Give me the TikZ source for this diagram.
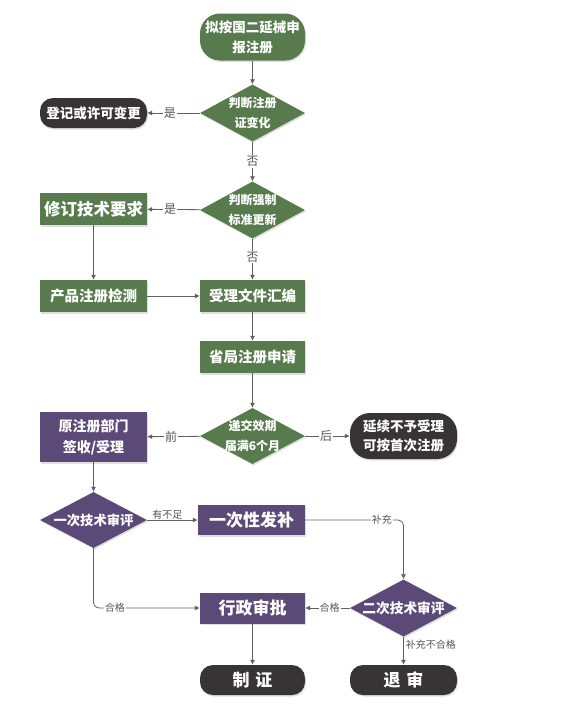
\documentclass[tikz,border=0pt]{standalone}
\usepackage{fontspec}
\setmainfont{Noto Sans CJK SC}
\usetikzlibrary{shapes.geometric,arrows.meta,shadows}
\definecolor{gbox}{HTML}{587B4E}
\definecolor{pbox}{HTML}{5B4A78}
\definecolor{dbox}{HTML}{383335}
\definecolor{lgray}{HTML}{606060}
\definecolor{tgray}{HTML}{555555}
\newcommand{\fs}[2]{\fontsize{#1}{#2}\selectfont}
\begin{document}
\begin{tikzpicture}[x=1pt,y=-1pt,
  base/.style={text=white,align=center,inner sep=0pt,
    drop shadow={opacity=0.25,shadow xshift=1pt,shadow yshift=-1.5pt}},
  gbx/.style={base,rectangle,fill=gbox,minimum width=105pt},
  pbx/.style={base,rectangle,fill=pbox,minimum width=107pt},
  term/.style={base,rectangle,rounded corners=13pt,fill=dbox,minimum width=107pt},
  dia/.style={base,diamond,shape aspect=1.84,inner sep=-4pt,minimum height=57pt},
  gdia/.style={dia,fill=gbox,minimum width=105pt},
  pdia/.style={dia,fill=pbox,minimum width=107pt},
  arr/.style={draw=lgray,line width=0.8pt,-{Latex[length=5pt,width=5pt]}},
  lab/.style={text=tgray,fill=white,inner sep=1pt,font=\fs{12}{14}},
  slab/.style={text=tgray,fill=white,inner sep=1pt,font=\fs{10}{12}},
]
\useasboundingbox (0,0) rectangle (582,723);
% nodes
\node[gbx,rounded corners=20pt,minimum height=47pt,font=\bfseries\fs{13.5}{20}] (start) at (252.5,37) {拟按国二延械申\\报注册};
\node[gdia,font=\bfseries\fs{12}{20}] (d1) at (252.5,113) {判断注册\\证变化};
\node[term,minimum height=30pt,font=\bfseries\fs{13.5}{16}] (n1) at (93.5,113) {登记或许可变更};
\node[gdia,font=\bfseries\fs{12}{20}] (d2) at (252.5,210) {判断强制\\标准更新};
\node[gbx,minimum width=107pt,minimum height=32pt,font=\bfseries\fs{16.5}{18}] (n2) at (93.5,209) {修订技术要求};
\node[gbx,minimum width=107pt,minimum height=32pt,font=\bfseries\fs{14.5}{16}] (n3) at (93.5,296) {产品注册检测};
\node[gbx,minimum height=32pt,font=\bfseries\fs{14.5}{16}] (n4) at (252.5,296) {受理文件汇编};
\node[gbx,minimum height=32pt,font=\bfseries\fs{14.5}{16}] (n5) at (252.5,357) {省局注册申请};
\node[gdia,minimum height=56pt,font=\bfseries\fs{12}{20}] (d3) at (252.5,436) {递交效期\\届满6个月};
\node[pbx,minimum height=50pt,font=\bfseries\fs{14}{21}] (n6) at (93.5,437) {原注册部门\\签收/受理};
\node[term,rounded corners=20pt,minimum height=46pt,font=\bfseries\fs{13.5}{19}] (n7) at (403.5,436) {延续不予受理\\可按首次注册};
\node[pdia,minimum height=56pt,font=\bfseries\fs{13.3}{16}] (d4) at (93.5,520) {一次技术审评};
\node[pbx,minimum height=30pt,font=\bfseries\fs{17}{19}] (n8) at (251.5,520) {一次性发补};
\node[pdia,font=\bfseries\fs{13.7}{16}] (d5) at (403.5,608) {二次技术审评};
\node[pbx,minimum width=105pt,minimum height=31pt,font=\bfseries\fs{17}{19}] (n9) at (252.5,608) {行政审批};
\node[term,minimum width=105pt,minimum height=30pt,font=\bfseries\fs{17}{19}] (n10) at (252.5,680) {制\,\,证};
\node[term,minimum height=30pt,font=\bfseries\fs{17}{19}] (n11) at (403.5,680) {退\,\,审};
% connectors
\draw[arr] (start) -- (d1);
\draw[arr] (d1) -- node[lab,pos=0.57]{是} (n1);
\draw[arr] (d1) -- node[lab]{否} (d2);
\draw[arr] (d2) -- node[lab,pos=0.57]{是} (n2);
\draw[arr] (d2) -- node[lab,pos=0.45]{否} (n4);
\draw[arr] (n2) -- (n3);
\draw[arr] (n3) -- (n4);
\draw[arr] (n4) -- (n5);
\draw[arr] (n5) -- (d3);
\draw[arr] (d3) -- node[lab,pos=0.55]{前} (n6);
\draw[arr] (d3) -- node[lab,pos=0.47]{后} (n7);
\draw[arr] (n6) -- (d4);
\draw[arr] (d4) -- node[slab,fill=none,above=-1pt,pos=0.4]{有不足} (n8);
\coordinate (c1) at (d5.north |- n8.east);
\draw[arr,rounded corners=6pt] (n8.east) -- node[slab,pos=0.78]{补充} (c1) -- (d5.north);
\coordinate (c2) at (d4.south |- n9.west);
\draw[arr,rounded corners=6pt] (d4.south) -- (c2) -- node[slab,pos=0.2]{合格} (n9.west);
\draw[arr] (d5) -- node[slab,pos=0.45]{合格} (n9);
\draw[arr] (n9) -- (n10);
\draw[arr] (d5) -- node[slab,fill=none,right=1pt,pos=0.3]{补充不合格} (n11);
\end{tikzpicture}
\end{document}
